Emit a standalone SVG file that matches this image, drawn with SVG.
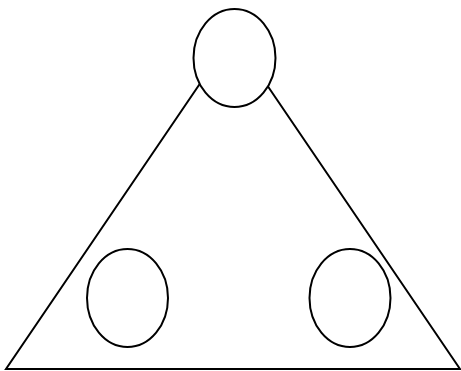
<svg xmlns="http://www.w3.org/2000/svg" width="461" height="371" viewBox="0 0 461 371">
<style>
.edge{fill:none;stroke:#000;stroke-width:2}
.node{fill:#fff;stroke:#000;stroke-width:2}
</style>
<rect width="461" height="371" fill="#fff"/>
<g id="connectors">
<polyline class="edge" points="233,35 6,369 460,369 233,35"/>
</g>
<g id="node-top"><ellipse class="node" cx="234.5" cy="58" rx="41" ry="49"/></g>
<g id="node-left"><ellipse class="node" cx="127.5" cy="298" rx="40.5" ry="49"/></g>
<g id="node-right"><ellipse class="node" cx="350" cy="298" rx="40.5" ry="49"/></g>
</svg>
